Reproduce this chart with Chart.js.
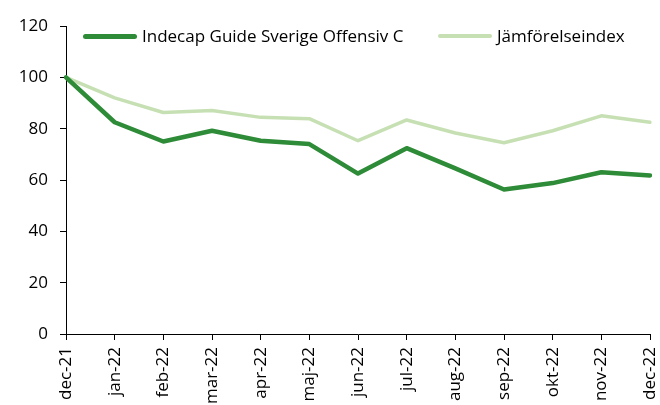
<!DOCTYPE html>
<html>
<head>
<meta charset="utf-8">
<script src="https://cdn.jsdelivr.net/npm/chart.js@4/dist/chart.umd.min.js"></script>
<style>
body { margin: 0; background: #fff; }
.wrap { position: relative; width: 660px; height: 405px; overflow: hidden; }
.legend-item { position: absolute; top: 25px; font: 17px "Open Sans", sans-serif; color: #000; white-space: nowrap; line-height: 22px; }
.legend-line { display: inline-block; vertical-align: middle; border-radius: 3px; margin-right: 5px; position: relative; top: -1px; }
</style>
</head>
<body>
<div class="wrap">
<canvas id="chart" width="660" height="405"></canvas>
<div class="legend-item" style="left:83px"><span class="legend-line" id="lg0"></span><span id="lt0"></span></div>
<div class="legend-item" style="left:438px"><span class="legend-line" id="lg1"></span><span id="lt1"></span></div>
</div>
<script>
// Monthly index values, start = 100
const months = ['dec-21', 'jan-22', 'feb-22', 'mar-22', 'apr-22', 'maj-22', 'jun-22',
'jul-22', 'aug-22', 'sep-22', 'okt-22', 'nov-22', 'dec-22'];
const fundValues = [100, 82.5, 75.0, 79.2, 75.3, 74.0, 62.5, 72.4, 64.5, 56.3, 58.8, 63.0, 61.8];
const indexValues = [100, 92.0, 86.3, 87.1, 84.4, 83.9, 75.3, 83.4, 78.3, 74.5, 79.2, 85.0, 82.5];
const seriesNames = ['Indecap Guide Sverige Offensiv C', 'Jämförelseindex'];
const yTicks = [0, 20, 40, 60, 80, 100, 120];

const fundColor = '#2e8b37';
const indexColor = '#c6e0b4';
const tickFont = { family: '"Open Sans", sans-serif', size: 17 };

function buildLegend() {
const colors = [fundColor, indexColor];
const widths = [54, 54];
const thick = [5, 4];
for (let i = 0; i < seriesNames.length; i += 1) {
const line = document.getElementById('lg' + i);
line.style.width = widths[i] + 'px';
line.style.height = thick[i] + 'px';
line.style.background = colors[i];
document.getElementById('lt' + i).textContent = seriesNames[i];
}
}

function initChart() {
const ctx = document.getElementById('chart');

new Chart(ctx, {
type: 'line',
data: {
labels: months,
datasets: [{
label: seriesNames[0],
data: fundValues,
borderColor: fundColor,
borderWidth: 4.5,
borderCapStyle: 'round',
borderJoinStyle: 'round',
pointRadius: 0,
tension: 0
}, {
label: seriesNames[1],
data: indexValues,
borderColor: indexColor,
borderWidth: 3.5,
borderCapStyle: 'round',
borderJoinStyle: 'round',
pointRadius: 0,
tension: 0
}]
},
options: {
responsive: false,
animation: false,
events: [],
layout: { padding: { top: 26, right: 10, left: 0, bottom: 0 } },
plugins: {
legend: { display: false },
tooltip: { enabled: false }
},
scales: {
x: {
offset: false,
afterFit: (scale) => {
scale.height = 71;
// the rotated end labels may spill past the plot edges, as in the original
scale.paddingLeft = 0;
scale.paddingRight = 0;
},
ticks: {
color: '#000',
font: tickFont,
minRotation: 90,
maxRotation: 90,
autoSkip: false,
padding: 7
},
grid: {
drawOnChartArea: false,
drawTicks: true,
tickLength: 6,
color: '#000'
},
border: { display: true, color: '#000', width: 1 }
},
y: {
min: 0,
max: 120,
afterFit: (scale) => {
scale.width = 66;
scale.paddingTop = 0;
scale.paddingBottom = 0;
},
afterBuildTicks: (scale) => {
scale.ticks = yTicks.map((v) => ({ value: v }));
},
ticks: {
color: '#000',
font: tickFont,
padding: 12
},
grid: {
drawOnChartArea: false,
drawTicks: true,
tickLength: 6,
color: '#000'
},
border: { display: true, color: '#000', width: 1 }
}
}
}
});
}

buildLegend();
initChart();
</script>
</body>
</html>
